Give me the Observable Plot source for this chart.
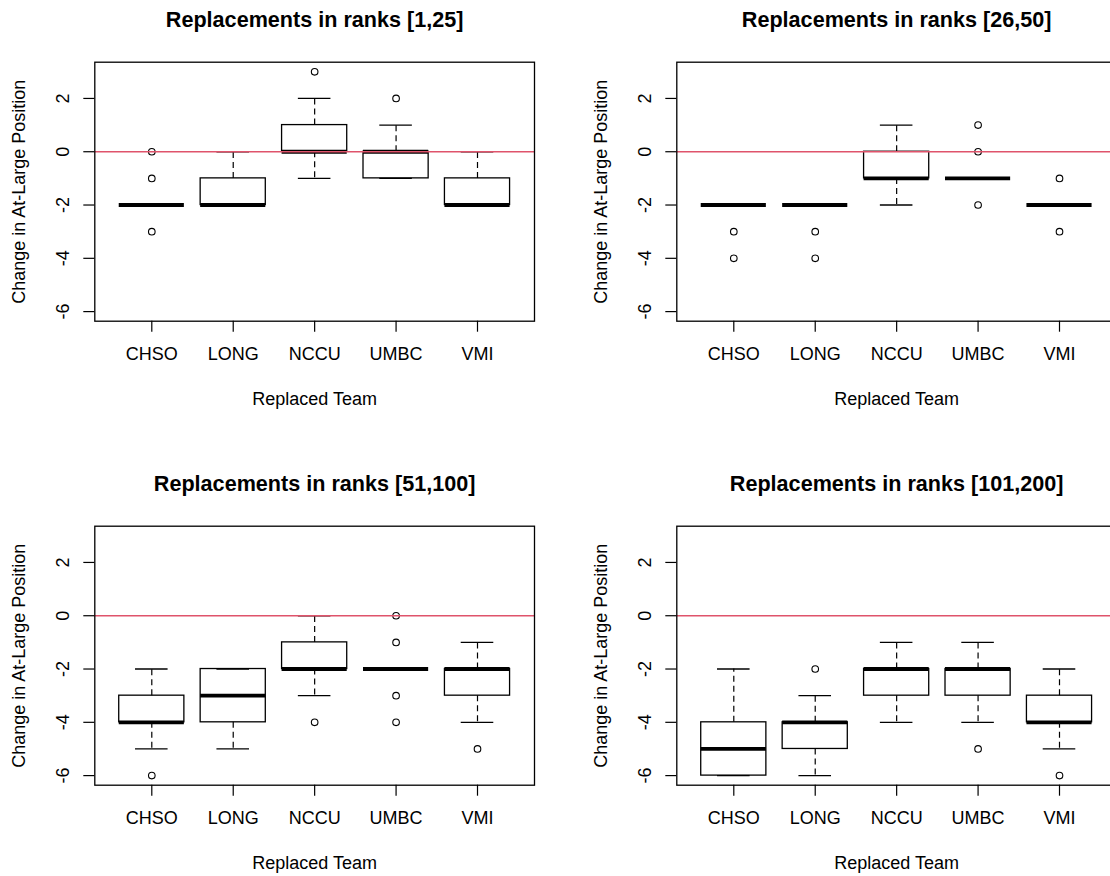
<!DOCTYPE html>
<html>
<head>
<meta charset="utf-8">
<script src="https://cdn.jsdelivr.net/npm/d3@7"></script>
<script src="https://cdn.jsdelivr.net/npm/@observablehq/plot@0.6"></script>
<style>
  html, body { margin: 0; padding: 0; background: white; }
  #fig { position: relative; width: 1110px; height: 876px; overflow: hidden; background: white; }
  .cell { position: absolute; width: 582px; height: 464px; }
  .cell svg { max-width: none !important; width: 582px; height: 464px; }
</style>
</head>
<body>
<div id="fig"></div>
<script>
const teams = ["CHSO", "LONG", "NCCU", "UMBC", "VMI"];
const panelTitles = [
  "Replacements in ranks [1,25]",
  "Replacements in ranks [26,50]",
  "Replacements in ranks [51,100]",
  "Replacements in ranks [101,200]"
];
const yTicks = [-6, -4, -2, 0, 2];
const xLabel = "Replaced Team";
const yLabel = "Change in At-Large Position";

// one row per panel, one value per team
const whiskerLow = [
  [-2, -2, -1, -1, -2],
  [-2, -2, -2, -1, -2],
  [-5, -5, -3, -2, -4],
  [-6, -6, -4, -4, -5]
];
const boxLow = [
  [-2, -2, 0, -1, -2],
  [-2, -2, -1, -1, -2],
  [-4, -4, -2, -2, -3],
  [-6, -5, -3, -3, -4]
];
const medians = [
  [-2, -2, 0, 0, -2],
  [-2, -2, -1, -1, -2],
  [-4, -3, -2, -2, -2],
  [-5, -4, -2, -2, -4]
];
const boxHigh = [
  [-2, -1, 1, 0, -1],
  [-2, -2, 0, -1, -2],
  [-3, -2, -1, -2, -2],
  [-4, -4, -2, -2, -3]
];
const whiskerHigh = [
  [-2, 0, 2, 1, 0],
  [-2, -2, 1, -1, -2],
  [-2, -2, 0, -2, -1],
  [-2, -3, -1, -1, -2]
];
const outliers = [
  [[0, -1, -3], [], [3], [2], []],
  [[-3, -4], [-3, -4], [], [1, 0, -2], [-1, -3]],
  [[-6], [], [-4], [0, -1, -3, -4], [-5]],
  [[], [-2], [], [-5], [-6]]
];

const FONT = "'Liberation Sans', Arial, Helvetica, sans-serif";
const cellW = 582, cellH = 464;
const offsets = [[0, 0], [cellW, 0], [0, cellH], [cellW, cellH]];

function panel(p) {
  const stats = teams.map((t, i) => ({
    pos: i + 1,
    lo: whiskerLow[p][i], q1: boxLow[p][i], med: medians[p][i],
    q3: boxHigh[p][i], hi: whiskerHigh[p][i]
  }));
  const pts = [];
  teams.forEach((t, i) => outliers[p][i].forEach(v => pts.push({pos: i + 1, v})));
  const ink = "#000";
  return Plot.plot({
    width: cellW,
    height: cellH,
    marginLeft: 94.3,
    marginRight: 48,
    marginTop: 61.7,
    marginBottom: 143.3,
    x: {domain: [0.3, 5.7]},
    y: {domain: [-6.36, 3.36]},
    style: {fontFamily: FONT, fontSize: "18px", background: "white", color: "#000", overflow: "visible"},
    marks: [
      Plot.axisX({ticks: [1, 2, 3, 4, 5], tickSize: 11, tickPadding: 15,
        tickFormat: i => teams[i - 1], label: null, fontSize: 18, strokeWidth: 1.2}),
      Plot.axisY({ticks: yTicks, tickSize: 11, tickFormat: () => "", label: null, strokeWidth: 1.2}),
      Plot.text(yTicks, {y: d => d, frameAnchor: "left", dx: -31.6, rotate: -90,
        text: d => String(d), fontSize: 18, textAnchor: "middle", lineAnchor: "middle"}),
      Plot.rect(stats.filter(d => d.q3 > d.q1), {
        x1: d => d.pos - 0.4, x2: d => d.pos + 0.4, y1: "q1", y2: "q3",
        fill: "white", stroke: ink, strokeWidth: 1.3}),
      Plot.ruleY(stats, {y: "med", x1: d => d.pos - 0.4, x2: d => d.pos + 0.4,
        stroke: ink, strokeWidth: 3.8, strokeLinecap: "butt"}),
      Plot.ruleX(stats.filter(d => d.hi > d.q3), {x: "pos", y1: "q3", y2: "hi",
        stroke: ink, strokeWidth: 1.2, strokeDasharray: "6,4"}),
      Plot.ruleX(stats.filter(d => d.lo < d.q1), {x: "pos", y1: "q1", y2: "lo",
        stroke: ink, strokeWidth: 1.2, strokeDasharray: "6,4"}),
      Plot.ruleY(stats, {y: "hi", x1: d => d.pos - 0.2, x2: d => d.pos + 0.2, stroke: ink, strokeWidth: 1.3}),
      Plot.ruleY(stats, {y: "lo", x1: d => d.pos - 0.2, x2: d => d.pos + 0.2, stroke: ink, strokeWidth: 1.3}),
      Plot.dot(pts, {x: "pos", y: "v", r: 3.3, stroke: ink, fill: "none", strokeWidth: 1.1}),
      Plot.ruleY([0], {stroke: "#DF536B", strokeWidth: 1.3}),
      Plot.frame({stroke: ink, strokeWidth: 1.3}),
      Plot.text([panelTitles[p]], {frameAnchor: "top", dy: -42.6, text: d => d,
        fontWeight: "bold", fontSize: 21.6, lineAnchor: "middle"}),
      Plot.text([xLabel], {frameAnchor: "bottom", dy: 78.5, text: d => d, fontSize: 18, lineAnchor: "middle"}),
      Plot.text([yLabel], {frameAnchor: "left", dx: -75.1, rotate: -90, text: d => d,
        fontSize: 18, textAnchor: "middle", lineAnchor: "middle"})
    ]
  });
}

const fig = document.getElementById("fig");
for (let p = 0; p < 4; ++p) {
  const cell = document.createElement("div");
  cell.className = "cell";
  cell.style.left = offsets[p][0] + "px";
  cell.style.top = offsets[p][1] + "px";
  cell.appendChild(panel(p));
  fig.appendChild(cell);
}
</script>
</body>
</html>
